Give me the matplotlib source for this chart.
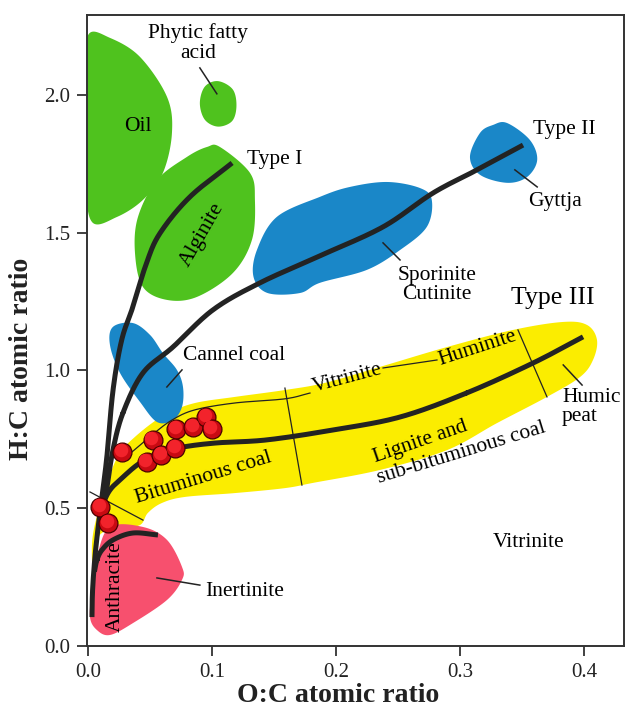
import numpy as np
import matplotlib.pyplot as plt
from matplotlib import transforms

plt.rcParams['font.family'] = ['Liberation Serif', 'DejaVu Serif']

# maceral / kerogen fields (O:C, H:C) outlines
oil_oc = [0.0, 0.0175, 0.0417, 0.0635, 0.0675, 0.0602, 0.0441, 0.0231, 0.003, -0.002, -0.002]
oil_hc = [2.218, 2.207, 2.138, 1.993, 1.862, 1.717, 1.619, 1.557, 1.539, 1.70, 2.05]

phytic_oc = [0.1046, 0.1165, 0.1195, 0.116, 0.1046, 0.094, 0.090, 0.094]
phytic_hc = [2.050, 2.020, 1.960, 1.905, 1.885, 1.910, 1.970, 2.030]

alginite_oc = [0.1062, 0.1304, 0.1344, 0.132, 0.1167, 0.0877, 0.0635, 0.0441, 0.0377, 0.0401, 0.0554, 0.0796, 0.0957]
alginite_hc = [1.811, 1.717, 1.619, 1.474, 1.354, 1.267, 1.256, 1.303, 1.426, 1.557, 1.691, 1.775, 1.811]

sporinite_oc = [0.1333, 0.1446, 0.1707, 0.1868, 0.2247, 0.2514, 0.273, 0.277, 0.2675, 0.241, 0.211, 0.1868, 0.152, 0.136]
sporinite_hc = [1.339, 1.281, 1.281, 1.318, 1.365, 1.437, 1.521, 1.619, 1.662, 1.684, 1.666, 1.630, 1.557, 1.437]

gyttja_oc = [0.3377, 0.356, 0.362, 0.3538, 0.3377, 0.3159, 0.3078, 0.3159, 0.3264]
gyttja_hc = [1.898, 1.837, 1.764, 1.702, 1.681, 1.710, 1.775, 1.862, 1.891]

cannel_oc = [0.0199, 0.036, 0.0498, 0.0602, 0.0715, 0.0764, 0.0756, 0.0683, 0.0554, 0.0417, 0.0256, 0.0175]
cannel_hc = [1.158, 1.172, 1.129, 1.063, 1.002, 0.940, 0.868, 0.820, 0.813, 0.886, 0.991, 1.093]

coal_oc = [0.0038, 0.003, 0.0062, 0.0127, 0.0199, 0.0272, 0.0377, 0.0514, 0.0643, 0.0862, 0.1183,
           0.1586, 0.1909, 0.2353, 0.2893, 0.3425, 0.3828, 0.4022, 0.4102, 0.407, 0.3965, 0.3699,
           0.3296, 0.2893, 0.2353, 0.1813, 0.1586, 0.1183, 0.078, 0.0594, 0.0481, 0.0417, 0.0256,
           0.0094, 0.007, 0.0054]
coal_hc = [0.240, 0.367, 0.457, 0.548, 0.650, 0.711, 0.759, 0.809, 0.846, 0.882, 0.904,
           0.929, 0.955, 1.013, 1.085, 1.147, 1.176, 1.165, 1.111, 1.038, 0.976, 0.904,
           0.809, 0.711, 0.639, 0.592, 0.573, 0.555, 0.541, 0.519, 0.483, 0.439, 0.428,
           0.403, 0.312, 0.240]

inert_oc = [0.0175, 0.0441, 0.0635, 0.0756, 0.0756, 0.0635, 0.036, 0.0175, 0.007, 0.0014, 0.003, 0.007]
inert_hc = [0.432, 0.432, 0.385, 0.287, 0.240, 0.167, 0.083, 0.040, 0.058, 0.105, 0.203, 0.323]

# evolution paths
type1_oc = [0.116, 0.082, 0.058, 0.047, 0.036, 0.027, 0.020, 0.015, 0.011, 0.008, 0.0054, 0.0035, 0.003]
type1_hc = [1.753, 1.63, 1.499, 1.39, 1.231, 1.111, 0.929, 0.686, 0.54, 0.432, 0.323, 0.203, 0.105]

type2_oc = [0.3506, 0.3135, 0.278, 0.2377, 0.1868, 0.1385, 0.1006, 0.0683, 0.0441, 0.028, 0.0199, 0.0151, 0.0119, 0.009]
type2_hc = [1.818, 1.728, 1.644, 1.521, 1.416, 1.318, 1.220, 1.085, 0.991, 0.846, 0.711, 0.577, 0.512, 0.45]

type3_oc = [0.399, 0.3587, 0.305, 0.2514, 0.1974, 0.144, 0.1034, 0.0763, 0.058, 0.0417, 0.028, 0.0175, 0.0119, 0.009]
type3_hc = [1.122, 1.027, 0.918, 0.831, 0.784, 0.748, 0.737, 0.722, 0.700, 0.664, 0.613, 0.566, 0.512, 0.45]

anthr_oc = [0.0562, 0.036, 0.020, 0.011, 0.007, 0.005]
anthr_hc = [0.403, 0.410, 0.385, 0.348, 0.312, 0.27]

# vitrinite/huminite boundary and rank divisions
vitr_oc = [0.0352, 0.0514, 0.0675, 0.086, 0.1183, 0.1586, 0.1788]
vitr_hc = [0.704, 0.766, 0.820, 0.857, 0.882, 0.897, 0.918]
humi_oc = [0.2377, 0.2812]
humi_hc = [1.009, 1.038]
div_oc = [[0.1586, 0.1723], [0.3465, 0.3699], [0.0014, 0.0441]]
div_hc = [[0.936, 0.584], [1.147, 0.904], [0.559, 0.457]]

# samples
sample_oc = [0.0272, 0.052, 0.047, 0.059, 0.070, 0.0709, 0.0844, 0.0949, 0.0997, 0.0094, 0.016]
sample_hc = [0.704, 0.748, 0.668, 0.693, 0.719, 0.788, 0.795, 0.831, 0.788, 0.505, 0.446]

GREEN = '#4fc21e'
BLUE = '#1a87c8'
YELLOW = '#fbed00'
PINK = '#f7506e'
LINE = '#232323'


def closed_spline(xs, ys, n=24):
    p = np.column_stack([xs, ys])
    m = len(p)
    t = np.linspace(0, 1, n, endpoint=False)[:, None]
    segs = []
    for i in range(m):
        p0, p1, p2, p3 = p[i - 1], p[i], p[(i + 1) % m], p[(i + 2) % m]
        segs.append(0.5 * (2 * p1 + (p2 - p0) * t + (2 * p0 - 5 * p1 + 4 * p2 - p3) * t ** 2
                           + (-p0 + 3 * p1 - 3 * p2 + p3) * t ** 3))
    s = np.vstack(segs)
    return s[:, 0], s[:, 1]


def open_spline(xs, ys, n=24):
    p = np.column_stack([xs, ys])
    p = np.vstack([2 * p[0] - p[1], p, 2 * p[-1] - p[-2]])
    t = np.linspace(0, 1, n)[:, None]
    segs = []
    for i in range(1, len(p) - 2):
        p0, p1, p2, p3 = p[i - 1], p[i], p[i + 1], p[i + 2]
        segs.append(0.5 * (2 * p1 + (p2 - p0) * t + (2 * p0 - 5 * p1 + 4 * p2 - p3) * t ** 2
                           + (-p0 + 3 * p1 - 3 * p2 + p3) * t ** 3))
    s = np.vstack(segs)
    return s[:, 0], s[:, 1]


fig = plt.figure(figsize=(6.25, 7.1), dpi=100)
ax = fig.add_axes([87 / 625, 64 / 710, 537 / 625, 631 / 710])
ax.set_xlim(-0.001, 0.432)
ax.set_ylim(0, 2.29)

for xs, ys, c in [(coal_oc, coal_hc, YELLOW), (oil_oc, oil_hc, GREEN), (phytic_oc, phytic_hc, GREEN),
                  (alginite_oc, alginite_hc, GREEN), (sporinite_oc, sporinite_hc, BLUE),
                  (gyttja_oc, gyttja_hc, BLUE), (cannel_oc, cannel_hc, BLUE), (inert_oc, inert_hc, PINK)]:
    sx, sy = closed_spline(xs, ys)
    ax.fill(sx, sy, color=c, lw=0, zorder=1)

# thin boundary lines
ax.plot(*open_spline(vitr_oc, vitr_hc), color=LINE, lw=0.9, zorder=2)
ax.plot(humi_oc, humi_hc, color=LINE, lw=0.9, zorder=2)
for xs, ys in zip(div_oc, div_hc):
    ax.plot(xs, ys, color=LINE, lw=0.9, zorder=2)

# evolution paths
for xs, ys in [(type1_oc, type1_hc), (type2_oc, type2_hc), (type3_oc, type3_hc), (anthr_oc, anthr_hc)]:
    ax.plot(*open_spline(xs, ys), color=LINE, lw=3.6, solid_capstyle='butt', zorder=3)

# samples drawn as shaded spheres
ax.scatter(sample_oc, sample_hc, s=185, color='#c80a12', edgecolor='#4a0000', lw=0.9, zorder=5)
hl = transforms.offset_copy(ax.transData, fig=fig, x=-1.0, y=1.3, units='points')
ax.scatter(sample_oc, sample_hc, s=95, color='#f2232b', lw=0, transform=hl, zorder=6)

fs = 15.5
ax.text(0.040, 1.887, 'Oil', fontsize=fs, ha='center', va='center', zorder=7)
ax.text(0.0886, 2.189, 'Phytic fatty\nacid', fontsize=fs, ha='center', va='center', linespacing=1.05, zorder=7)
ax.plot([0.090, 0.1037], [2.098, 2.004], color=LINE, lw=1.1, zorder=7)
ax.text(0.0917, 1.492, 'Alginite', fontsize=fs, ha='center', va='center', rotation=60,
        rotation_mode='anchor', zorder=7)
ax.text(0.128, 1.764, 'Type I', fontsize=fs, ha='left', va='center', zorder=7)
ax.text(0.3586, 1.873, 'Type II', fontsize=fs, ha='left', va='center', zorder=7)
ax.text(0.376, 1.612, 'Gyttja', fontsize=fs, ha='center', va='center', zorder=7)
ax.plot([0.344, 0.362], [1.728, 1.666], color=LINE, lw=1.1, zorder=7)
ax.text(0.281, 1.310, 'Sporinite\nCutinite', fontsize=fs, ha='center', va='center', linespacing=1.0, zorder=7)
ax.plot([0.2377, 0.2514], [1.463, 1.401], color=LINE, lw=1.1, zorder=7)
ax.text(0.375, 1.263, 'Type III', fontsize=18.5, ha='center', va='center', zorder=7)
ax.text(0.0764, 1.056, 'Cannel coal', fontsize=fs, ha='left', va='center', zorder=7)
ax.plot([0.0634, 0.0756], [0.940, 1.002], color=LINE, lw=1.1, zorder=7)
ax.text(0.2088, 0.973, 'Vitrinite', fontsize=fs, ha='center', va='center', rotation=15,
        rotation_mode='anchor', zorder=7)
ax.text(0.314, 1.082, 'Huminite', fontsize=fs, ha='center', va='center', rotation=18,
        rotation_mode='anchor', zorder=7)
ax.text(0.0927, 0.610, 'Bituminous coal', fontsize=fs, ha='center', va='center', rotation=17,
        rotation_mode='anchor', zorder=7)
ax.text(0.2675, 0.740, 'Lignite and', fontsize=fs, ha='center', va='center', rotation=19,
        rotation_mode='anchor', zorder=7)
ax.text(0.3013, 0.700, 'sub-bituminous coal', fontsize=fs, ha='center', va='center', rotation=17,
        rotation_mode='anchor', zorder=7)
ax.text(0.382, 0.868, 'Humic\npeat', fontsize=fs, ha='left', va='center', linespacing=1.0, zorder=7)
ax.plot([0.383, 0.3982], [1.020, 0.947], color=LINE, lw=1.1, zorder=7)
ax.text(0.355, 0.374, 'Vitrinite', fontsize=fs, ha='center', va='center', zorder=7)
ax.text(0.0218, 0.214, 'Anthracite', fontsize=fs, ha='center', va='center', rotation=90, zorder=7)
ax.text(0.094, 0.196, 'Inertinite', fontsize=fs, ha='left', va='center', zorder=7)
ax.plot([0.0554, 0.090], [0.247, 0.221], color=LINE, lw=1.1, zorder=7)

ax.set_xticks([0.0, 0.1, 0.2, 0.3, 0.4])
ax.set_xticklabels(['0.0', '0.1', '0.2', '0.3', '0.4'])
ax.set_yticks([0.0, 0.5, 1.0, 1.5, 2.0])
ax.set_yticklabels(['0.0', '0.5', '1.0', '1.5', '2.0'])
ax.tick_params(direction='out', length=7, width=1.3, labelsize=15, pad=5, colors='#333333',
               labelcolor='#222222')
for sp in ax.spines.values():
    sp.set_linewidth(1.4)
    sp.set_color('#333333')

fig.text(338 / 625, 1 - 695 / 710, 'O:C atomic ratio', fontsize=20, fontweight='bold',
         ha='center', va='center', color='#222222')
fig.text(22 / 625, 1 - 359 / 710, 'H:C atomic ratio', fontsize=20, fontweight='bold',
         ha='center', va='center', rotation=90, color='#222222')

fig.savefig('out.png', dpi=100)
